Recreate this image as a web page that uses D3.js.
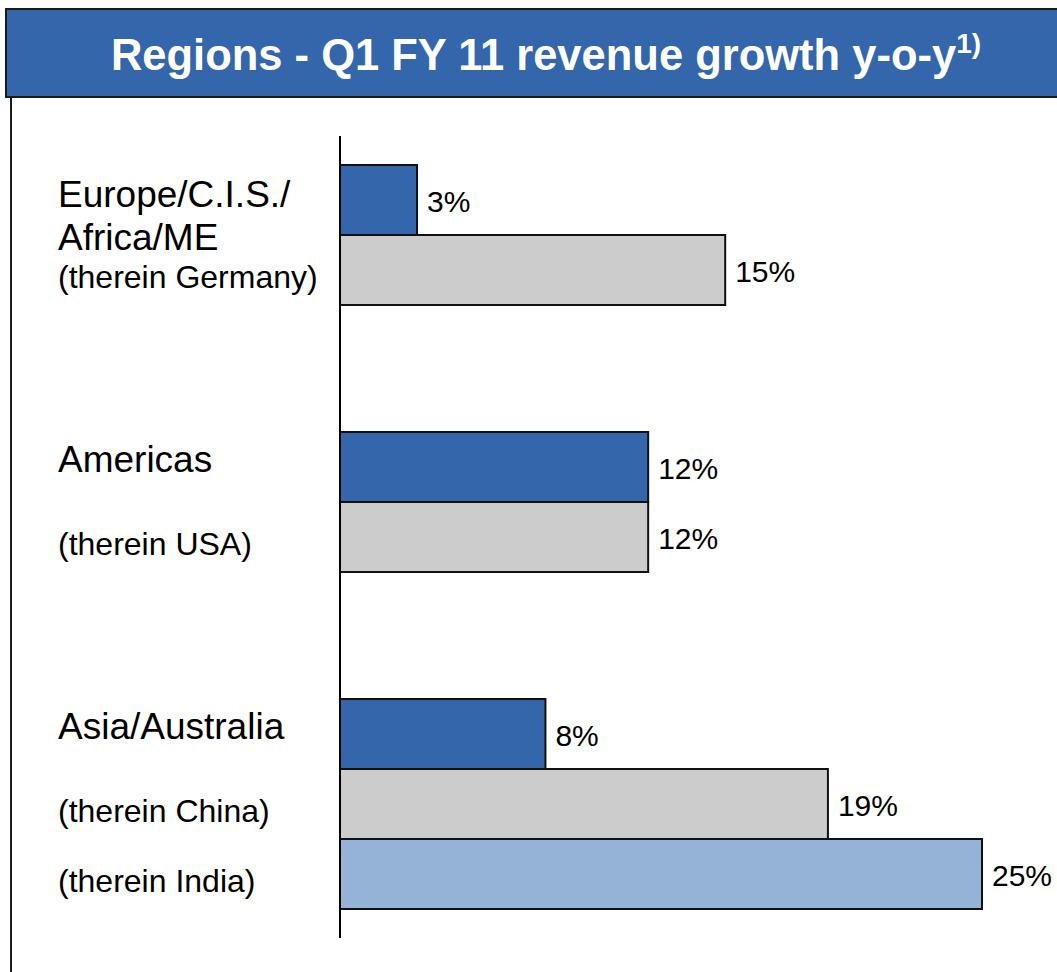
<!DOCTYPE html>
<html>
<head>
<meta charset="utf-8">
<script src="https://cdn.jsdelivr.net/npm/d3@7"></script>
<style>
  body { margin: 0; background: #fff; }
  svg { display: block; font-family: Arial, "Liberation Sans", sans-serif; }
</style>
</head>
<body>
<svg width="1057" height="972"></svg>
<script>
// data
const regionNames = [["Europe/C.I.S./", "Africa/ME"], ["Americas"], ["Asia/Australia"]];
const regionGrowth = [3, 12, 8];
const countryNames = [["(therein Germany)"], ["(therein USA)"], ["(therein China)", "(therein India)"]];
const countryGrowth = [[15], [12], [19, 25]];
const countryKind = [["grey"], ["grey"], ["grey", "light"]];

const colors = { region: "#3366aa", grey: "#cccccc", light: "#95b3d7" };

const svg = d3.select("svg");

// title box
svg.append("rect")
  .attr("x", 6).attr("y", 9).attr("width", 1070).attr("height", 88)
  .attr("fill", "#3366aa").attr("stroke", "#1a1a1a").attr("stroke-width", 2);

const title = svg.append("text")
  .attr("x", 546).attr("y", 70)
  .attr("text-anchor", "middle")
  .attr("fill", "#fff").attr("font-weight", "bold").attr("font-size", 43.5)
title.append("tspan").text("Regions - Q1 FY 11 revenue growth y-o-y");
title.append("tspan").attr("font-size", 28).attr("dy", -17).text("1)");

// content frame
svg.append("path")
  .attr("d", "M11,97 V980 M6,97 H1070")
  .attr("stroke", "#1a1a1a").attr("stroke-width", 2).attr("fill", "none");

// build rows
const rows = [];
regionNames.forEach((r, i) => {
  rows.push({ group: i, slot: 0, value: regionGrowth[i], fill: colors.region, lines: r, main: true });
  countryNames[i].forEach((c, j) => {
    rows.push({ group: i, slot: j + 1, value: countryGrowth[i][j], fill: colors[countryKind[i][j]], lines: [c], main: false });
  });
});

const x0 = 340;
const x = d3.scaleLinear().domain([0, 25]).range([0, 642]);
const y = d3.scaleBand().domain(d3.range(regionNames.length)).range([165, 909]).paddingInner(57 / 267);
const ySlot = d3.scaleBand().domain([0, 1, 2]).range([0, y.bandwidth()]);

const rowY = d => y(d.group) + ySlot(d.slot);
const rowMid = d => rowY(d) + ySlot.bandwidth() / 2;

const g = svg.append("g");

g.selectAll("rect.bar")
  .data(rows)
  .enter()
  .append("rect")
  .attr("class", "bar")
  .attr("x", x0)
  .attr("y", d => rowY(d))
  .attr("width", d => x(d.value))
  .attr("height", ySlot.bandwidth())
  .attr("fill", d => d.fill)
  .attr("stroke", "#111").attr("stroke-width", 2);

g.selectAll("text.value")
  .data(rows)
  .enter()
  .append("text")
  .attr("class", "value")
  .attr("x", d => x0 + x(d.value) + 10)
  .attr("y", d => rowMid(d) + 12)
  .attr("font-size", 30)
  .attr("fill", "#000")
  .text(d => d.value + "%");

// row labels
const labels = g.selectAll("text.label")
  .data(rows)
  .enter()
  .append("text")
  .attr("class", "label")
  .attr("x", 58)
  .attr("y", d => rowMid(d) + (d.main ? (d.lines.length > 1 ? 7 : 5) : 18))
  .attr("font-size", d => d.main ? 37 : 32)
  .attr("fill", "#000");
labels.selectAll("tspan")
  .data(d => d.lines)
  .enter()
  .append("tspan")
  .attr("x", 58)
  .attr("dy", (d, i) => i ? 43 : 0)
  .text(d => d);

// axis line
svg.append("line")
  .attr("x1", x0).attr("x2", x0)
  .attr("y1", 136).attr("y2", 938)
  .attr("stroke", "#000").attr("stroke-width", 2);
</script>
</body>
</html>
